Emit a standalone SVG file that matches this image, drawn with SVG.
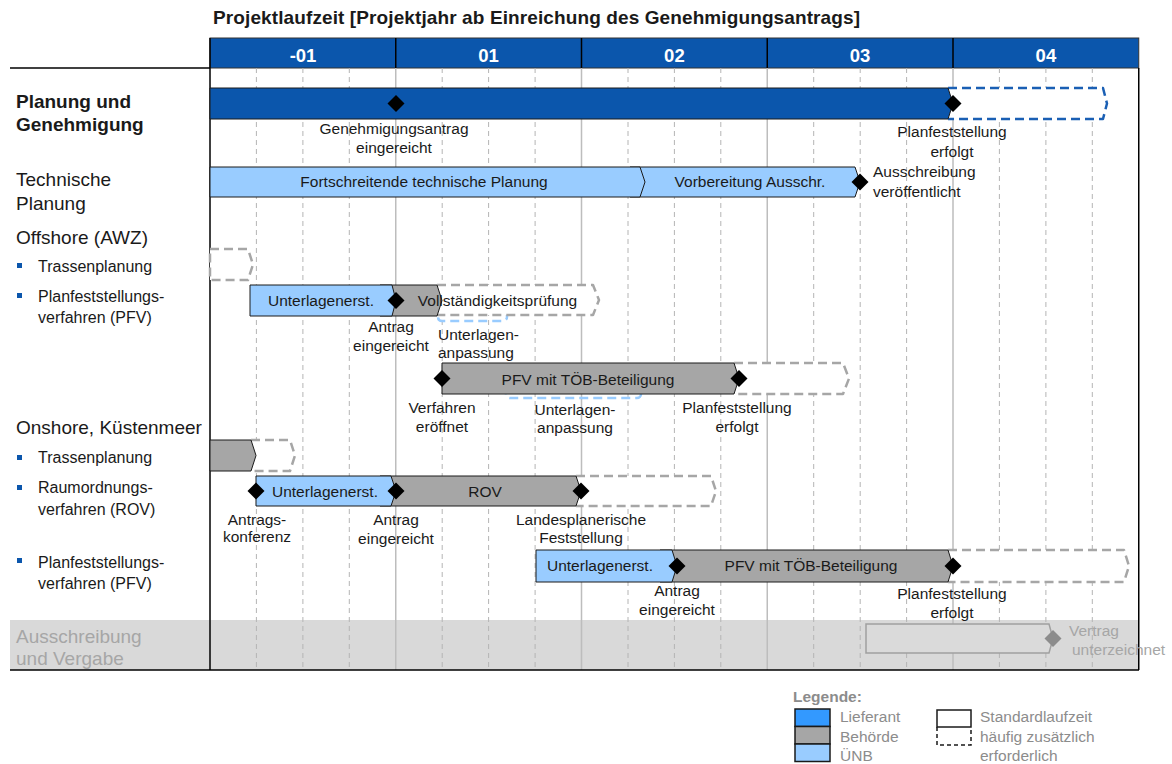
<svg xmlns="http://www.w3.org/2000/svg" width="1172" height="764" viewBox="0 0 1172 764">
<style>
text{font-family:"Liberation Sans",Arial,sans-serif;fill:#1a1a1a}
.title{font-size:19px;font-weight:bold}
.yr{font-size:18.5px;font-weight:bold;fill:#ffffff;text-anchor:middle}
.hb{font-size:19px;font-weight:bold}
.h{font-size:19px}
.b{font-size:16px}
.lb{font-size:15.5px}
.c{text-anchor:middle}
.gt{fill:#a6a6a6}
.lg{font-size:15.5px;fill:#8c8c8c}
.grid{stroke:#b4b4b4;stroke-width:1;stroke-dasharray:5,4}
.yl{stroke:#bdbdbd;stroke-width:1.5}
.blue{fill:#0b56ac;stroke:#1a1a1a;stroke-width:1}
.lblue{fill:#99ccff;stroke:#1a1a1a;stroke-width:1}
.gray{fill:#a6a6a6;stroke:#1a1a1a;stroke-width:1}
.dash{fill:#ffffff;stroke:#a6a6a6;stroke-width:2.5;stroke-dasharray:9,5;stroke-linejoin:round}
.dashb{fill:#ffffff;stroke:#1a5fb4;stroke-width:2.5;stroke-dasharray:9,5;stroke-linejoin:round}
.dashl{fill:none;stroke:#99ccff;stroke-width:2.5;stroke-dasharray:9,5}
.dia{fill:#000000}
.bul{fill:#0b56ac}
</style>
<defs>
<path id="dm" d="M0,-8.5 L8.5,0 L0,8.5 L-8.5,0 Z"/>
</defs>

<!-- background band -->
<rect x="10" y="620" width="1129" height="50" fill="#d9d9d9"/>

<!-- title -->
<text class="title" x="213" y="24" textLength="647" lengthAdjust="spacing">Projektlaufzeit [Projektjahr ab Einreichung des Genehmigungsantrags]</text>

<!-- header -->
<g id="header">
<rect x="210" y="38" width="928.75" height="30" fill="#0b56ac" stroke="#333333" stroke-width="1"/>
<g stroke="#000000" stroke-width="1.5">
<line x1="395.75" y1="38" x2="395.75" y2="68"/>
<line x1="581.5" y1="38" x2="581.5" y2="68"/>
<line x1="767.25" y1="38" x2="767.25" y2="68"/>
<line x1="953" y1="38" x2="953" y2="68"/>
</g>
<text class="yr" x="303" y="62">-01</text>
<text class="yr" x="488.6" y="62">01</text>
<text class="yr" x="674.4" y="62">02</text>
<text class="yr" x="860.1" y="62">03</text>
<text class="yr" x="1045.9" y="62">04</text>
</g>

<!-- grid -->
<g id="grid">
<g class="grid">
<line x1="256.4" y1="68" x2="256.4" y2="670"/>
<line x1="302.9" y1="68" x2="302.9" y2="670"/>
<line x1="349.3" y1="68" x2="349.3" y2="670"/>
<line x1="442.2" y1="68" x2="442.2" y2="670"/>
<line x1="488.6" y1="68" x2="488.6" y2="670"/>
<line x1="535.1" y1="68" x2="535.1" y2="670"/>
<line x1="628" y1="68" x2="628" y2="670"/>
<line x1="674.4" y1="68" x2="674.4" y2="670"/>
<line x1="720.8" y1="68" x2="720.8" y2="670"/>
<line x1="813.7" y1="68" x2="813.7" y2="670"/>
<line x1="860.2" y1="68" x2="860.2" y2="670"/>
<line x1="906.6" y1="68" x2="906.6" y2="670"/>
<line x1="999.4" y1="68" x2="999.4" y2="670"/>
<line x1="1045.9" y1="68" x2="1045.9" y2="670"/>
<line x1="1092.3" y1="68" x2="1092.3" y2="670"/>
</g>
<g class="yl">
<line x1="395.75" y1="68" x2="395.75" y2="670"/>
<line x1="581.5" y1="68" x2="581.5" y2="670"/>
<line x1="767.25" y1="68" x2="767.25" y2="670"/>
<line x1="953" y1="68" x2="953" y2="670"/>
</g>
<g stroke="#000000" stroke-width="1.5">
<line x1="10" y1="68" x2="210" y2="68"/>
<line x1="210" y1="38" x2="210" y2="670"/>
<line x1="1138.75" y1="68" x2="1138.75" y2="670"/>
<line x1="10" y1="670" x2="1139" y2="670"/>
</g>
</g>

<!-- row labels -->
<g id="labels">
<text class="hb" x="16" y="108">Planung und</text>
<text class="hb" x="16" y="131">Genehmigung</text>
<text class="h" x="16" y="186">Technische</text>
<text class="h" x="16" y="210">Planung</text>
<text class="h" x="16" y="244">Offshore (AWZ)</text>
<rect class="bul" x="17" y="263" width="5" height="5"/>
<text class="b" x="38" y="272">Trassenplanung</text>
<rect class="bul" x="17" y="293" width="5" height="5"/>
<text class="b" x="38" y="302">Planfeststellungs-</text>
<text class="b" x="38" y="323">verfahren (PFV)</text>
<text class="h" x="16" y="434">Onshore, Küstenmeer</text>
<rect class="bul" x="17" y="455" width="5" height="5"/>
<text class="b" x="38" y="463">Trassenplanung</text>
<rect class="bul" x="17" y="485" width="5" height="5"/>
<text class="b" x="38" y="493">Raumordnungs-</text>
<text class="b" x="38" y="515">verfahren (ROV)</text>
<rect class="bul" x="17" y="558" width="5" height="5"/>
<text class="b" x="38" y="568">Planfeststellungs-</text>
<text class="b" x="38" y="589">verfahren (PFV)</text>
<text class="h gt" x="16" y="643">Ausschreibung</text>
<text class="h gt" x="16" y="665">und Vergabe</text>
</g>

<!-- Row 1: Planung und Genehmigung -->
<g id="row-genehmigung">
<path class="dashb" d="M948,88 H1103 L1107,103.5 L1103,119 H948"/>
<path class="blue" d="M210,88 H948 L953,103.5 L948,119 H210 Z"/>
<use href="#dm" x="396" y="103.5" class="dia"/>
<use href="#dm" x="953" y="103.5" class="dia"/>
<text class="lb c" x="394" y="134">Genehmigungsantrag</text>
<text class="lb c" x="394" y="153">eingereicht</text>
<text class="lb c" x="952" y="137">Planfeststellung</text>
<text class="lb c" x="952" y="157">erfolgt</text>
</g>

<!-- Row 2: Technische Planung -->
<g id="row-technik">
<path class="lblue" d="M630,167 H855 L860,182 L855,197 H630 Z"/>
<path class="lblue" d="M210,167 H640 L645,182 L640,197 H210 Z"/>
<text class="lb c" x="424" y="187">Fortschreitende technische Planung</text>
<text class="lb c" x="750" y="187">Vorbereitung Ausschr.</text>
<use href="#dm" x="860" y="182" class="dia"/>
<text class="lb" x="873" y="177">Ausschreibung</text>
<text class="lb" x="873" y="197">veröffentlicht</text>
</g>

<!-- Offshore Trassenplanung -->
<g id="row-off-trasse">
<path class="dash" d="M210,249 H248 L253,264.5 L248,280 H210 Z"/>
</g>

<!-- Offshore PFV -->
<g id="row-off-pfv1">
<rect class="dashl" x="438" y="290" width="69" height="31" rx="4"/>
<path class="dash" d="M437,285 H593 L599,300 L593,315 H437"/>
<path class="gray" d="M380,285 H437 L442,300.5 L437,316 H380 Z"/>
<path class="lblue" d="M250,285 H392 L396,300.5 L392,316 H250 Z"/>
<text class="lb c" x="321" y="306">Unterlagenerst.</text>
<text class="lb c" x="497.5" y="306">Vollständigkeitsprüfung</text>
<use href="#dm" x="396" y="300.5" class="dia"/>
<text class="lb c" x="391" y="332">Antrag</text>
<text class="lb c" x="391" y="351">eingereicht</text>
<text class="lb" x="438" y="340">Unterlagen-</text>
<text class="lb" x="438" y="358">anpassung</text>
</g>

<g id="row-off-pfv2">
<rect class="dashl" x="506" y="368" width="135" height="30" rx="4"/>
<path class="dash" d="M734,363 H843 L849,378.5 L843,394 H734"/>
<path class="gray" d="M442,363 H734 L739,378.5 L734,394 H442 Z"/>
<text class="lb c" x="588" y="385">PFV mit TÖB-Beteiligung</text>
<use href="#dm" x="442" y="378.5" class="dia"/>
<use href="#dm" x="739" y="378.5" class="dia"/>
<text class="lb c" x="442" y="413">Verfahren</text>
<text class="lb c" x="442" y="432">eröffnet</text>
<text class="lb c" x="575" y="415">Unterlagen-</text>
<text class="lb c" x="575" y="433">anpassung</text>
<text class="lb c" x="737" y="413">Planfeststellung</text>
<text class="lb c" x="737" y="432">erfolgt</text>
</g>

<!-- Onshore Trassenplanung -->
<g id="row-on-trasse">
<path class="dash" d="M251,440 H290 L295,455.5 L290,471 H251"/>
<path class="gray" d="M210,440 H251 L256,455.5 L251,471 H210 Z"/>
</g>

<!-- ROV -->
<g id="row-rov">
<path class="dash" d="M576,476 H711 L716,491 L711,506 H576"/>
<path class="gray" d="M380,476 H576 L581,491 L576,506 H380 Z"/>
<path class="lblue" d="M256,476 H391 L396,491 L391,506 H256 Z"/>
<text class="lb c" x="325" y="497">Unterlagenerst.</text>
<text class="lb c" x="485" y="497">ROV</text>
<use href="#dm" x="256" y="491" class="dia"/>
<use href="#dm" x="396" y="491" class="dia"/>
<use href="#dm" x="581" y="491" class="dia"/>
<text class="lb c" x="257" y="525">Antrags-</text>
<text class="lb c" x="257" y="542">konferenz</text>
<text class="lb c" x="396" y="525">Antrag</text>
<text class="lb c" x="396" y="544">eingereicht</text>
<text class="lb c" x="581" y="525">Landesplanerische</text>
<text class="lb c" x="581" y="543">Feststellung</text>
</g>

<!-- Onshore PFV -->
<g id="row-on-pfv">
<path class="dash" d="M948,550 H1124 L1129,566 L1124,582 H948"/>
<path class="gray" d="M660,550 H948 L953,566 L948,582 H660 Z"/>
<path class="lblue" d="M536,550 H672 L677,566 L672,582 H536 Z"/>
<text class="lb c" x="600" y="571">Unterlagenerst.</text>
<text class="lb c" x="811" y="571">PFV mit TÖB-Beteiligung</text>
<use href="#dm" x="677" y="566" class="dia"/>
<use href="#dm" x="953" y="566" class="dia"/>
<text class="lb c" x="677" y="596">Antrag</text>
<text class="lb c" x="677" y="615">eingereicht</text>
<text class="lb c" x="952" y="599">Planfeststellung</text>
<text class="lb c" x="952" y="618">erfolgt</text>
</g>

<!-- Ausschreibung und Vergabe -->
<g id="row-vergabe">
<path d="M866,624 H1049 L1053,638.5 L1049,653 H866 Z" fill="#dadada" stroke="#a0a0a0" stroke-width="1.5"/>
<use href="#dm" x="1053" y="638.5" fill="#8c8c8c"/>
<text class="lb gt" x="1069" y="636">Vertrag</text>
<text class="lb gt" x="1072" y="655">unterzeichnet</text>
</g>

<!-- legend -->
<g id="legend">
<text x="793" y="702" style="font-size:15.5px;font-weight:bold;fill:#8c8c8c">Legende:</text>
<rect x="795" y="709" width="35" height="17.5" fill="#3399ff" stroke="#1a1a1a" stroke-width="1.5"/>
<rect x="795" y="726.5" width="35" height="17.5" fill="#a6a6a6" stroke="#1a1a1a" stroke-width="1.5"/>
<rect x="795" y="744" width="35" height="17.5" fill="#99ccff" stroke="#1a1a1a" stroke-width="1.5"/>
<text class="lg" x="840" y="722">Lieferant</text>
<text class="lg" x="840" y="742">Behörde</text>
<text class="lg" x="840" y="761">ÜNB</text>
<rect x="937" y="710" width="34" height="17" fill="#ffffff" stroke="#1a1a1a" stroke-width="1.5"/>
<path d="M937,727 V745 H971 V727" fill="none" stroke="#1a1a1a" stroke-width="1.5" stroke-dasharray="4,3"/>
<text class="lg" x="980" y="722">Standardlaufzeit</text>
<text class="lg" x="980" y="742">häufig zusätzlich</text>
<text class="lg" x="980" y="761">erforderlich</text>
</g>
</svg>
